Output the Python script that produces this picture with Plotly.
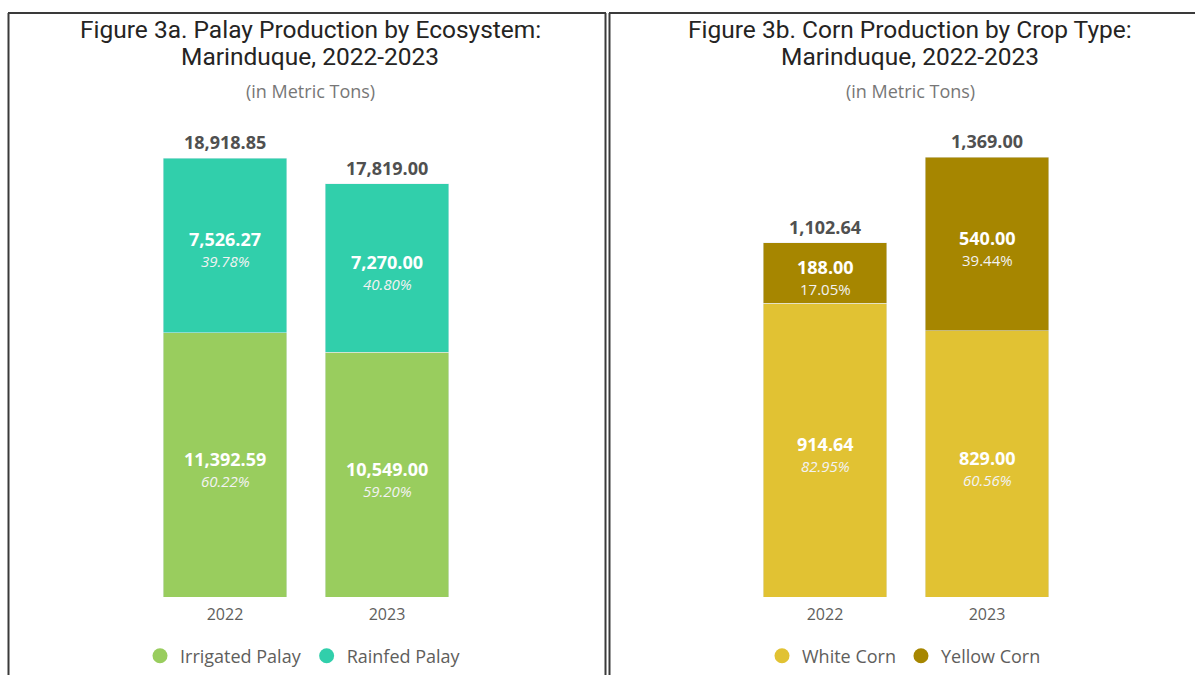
import plotly.graph_objects as go

W, H = 1195, 675

# ---- data ----
years = ["2022", "2023"]

palay_irrigated = [11392.59, 10549.00]
palay_rainfed = [7526.27, 7270.00]
palay_irrigated_pct = ["60.22%", "59.20%"]
palay_rainfed_pct = ["39.78%", "40.80%"]
palay_totals = [18918.85, 17819.00]

corn_white = [914.64, 829.00]
corn_yellow = [188.00, 540.00]
corn_white_pct = ["82.95%", "60.56%"]
corn_yellow_pct = ["17.05%", "39.44%"]
corn_totals = [1102.64, 1369.00]

C_IRR = "#99CD5E"
C_RAIN = "#31CFAB"
C_WHITE = "#E1C233"
C_YELLOW = "#A68600"

LABEL_FONT = "Open Sans, Noto Sans, sans-serif"
TITLE_FONT = "Roboto, Noto Sans, sans-serif"


def px_x(p):
    return p / W


def px_y(p):
    return 1 - p / H


fig = go.Figure()

# bars
fig.add_trace(go.Bar(x=years, y=palay_irrigated, marker_color=C_IRR, name="Irrigated Palay",
                     showlegend=False, xaxis="x", yaxis="y", hoverinfo="x+y+name"))
fig.add_trace(go.Bar(x=years, y=palay_rainfed, marker_color=C_RAIN, name="Rainfed Palay",
                     showlegend=False, xaxis="x", yaxis="y", hoverinfo="x+y+name"))
fig.add_trace(go.Bar(x=years, y=corn_white, marker_color=C_WHITE, name="White Corn",
                     showlegend=False, xaxis="x2", yaxis="y2", hoverinfo="x+y+name"))
fig.add_trace(go.Bar(x=years, y=corn_yellow, marker_color=C_YELLOW, name="Yellow Corn",
                     showlegend=False, xaxis="x2", yaxis="y2", hoverinfo="x+y+name"))

# legend entries (circle markers)
for name, col, leg, xa, ya in [
    ("Irrigated Palay", C_IRR, "legend", "x", "y"),
    ("Rainfed Palay", C_RAIN, "legend", "x", "y"),
    ("White Corn", C_WHITE, "legend2", "x2", "y2"),
    ("Yellow Corn", C_YELLOW, "legend2", "x2", "y2"),
]:
    fig.add_trace(go.Scatter(x=[None], y=[None], mode="markers", name=name,
                             marker=dict(symbol="circle", size=15, color=col),
                             legend=leg, xaxis=xa, yaxis=ya, showlegend=True))

ann = []


def seg_labels(xref, yref, bases, vals, pcts, italic):
    for i, (b, v, p) in enumerate(zip(bases, vals, pcts)):
        mid = b + v / 2
        ann.append(dict(x=i, y=mid, xref=xref, yref=yref, text=f"<b>{v:,.2f}</b>",
                        showarrow=False, yshift=6,
                        font=dict(family=LABEL_FONT, size=18, color="#FFFFFF")))
        ptxt = f"<i>{p}</i>" if italic else p
        ann.append(dict(x=i, y=mid, xref=xref, yref=yref, text=ptxt,
                        showarrow=False, yshift=-16,
                        font=dict(family=LABEL_FONT, size=15, color="#F2F2F2")))


seg_labels("x", "y", [0, 0], palay_irrigated, palay_irrigated_pct, True)
seg_labels("x", "y", palay_irrigated, palay_rainfed, palay_rainfed_pct, True)
seg_labels("x2", "y2", [0, 0], corn_white, corn_white_pct, True)
seg_labels("x2", "y2", corn_white, corn_yellow, corn_yellow_pct, False)

for xref, yref, tots in [("x", "y", palay_totals), ("x2", "y2", corn_totals)]:
    for i, t in enumerate(tots):
        ann.append(dict(x=i, y=t, xref=xref, yref=yref, text=f"<b>{t:,.2f}</b>",
                        showarrow=False, yshift=16,
                        font=dict(family=LABEL_FONT, size=18, color="#505050")))

# titles
for cx, t1, t2 in [(310, "Figure 3a. Palay Production by Ecosystem:", "Marinduque, 2022-2023"),
                   (910, "Figure 3b. Corn Production by Crop Type:", "Marinduque, 2022-2023")]:
    ann.append(dict(x=px_x(cx), y=px_y(30), xref="paper", yref="paper", text=t1,
                    showarrow=False, xanchor="center", yanchor="middle",
                    font=dict(family=TITLE_FONT, size=24.5, color="#252423")))
    ann.append(dict(x=px_x(cx), y=px_y(57), xref="paper", yref="paper", text=t2,
                    showarrow=False, xanchor="center", yanchor="middle",
                    font=dict(family=TITLE_FONT, size=24.5, color="#252423")))
    ann.append(dict(x=px_x(cx), y=px_y(91), xref="paper", yref="paper", text="(in Metric Tons)",
                    showarrow=False, xanchor="center", yanchor="middle",
                    font=dict(family=LABEL_FONT, size=18, color="#777777")))

# panel borders
LC = "#3A3A3A"
shapes = [
    dict(type="line", xref="paper", yref="paper", x0=px_x(8.5), x1=px_x(8.5), y0=px_y(13), y1=0,
         line=dict(color=LC, width=2)),
    dict(type="line", xref="paper", yref="paper", x0=px_x(8), x1=px_x(606), y0=px_y(13), y1=px_y(13),
         line=dict(color=LC, width=2)),
    dict(type="line", xref="paper", yref="paper", x0=px_x(605.5), x1=px_x(605.5), y0=px_y(13), y1=0,
         line=dict(color=LC, width=2)),
    dict(type="line", xref="paper", yref="paper", x0=px_x(609.5), x1=px_x(609.5), y0=px_y(13), y1=0,
         line=dict(color=LC, width=2)),
    dict(type="line", xref="paper", yref="paper", x0=px_x(609), x1=1, y0=px_y(13), y1=px_y(13),
         line=dict(color=LC, width=2)),
]

ydom = [1 - 597 / H, 1 - 120 / H]
palay_max = 477 * 18918.85 / 439
corn_max = 477 * 1369 / 440

axis_x = dict(type="category", range=[-0.5, 1.5], showgrid=False, zeroline=False, showline=False,
              ticks="", ticklabelstandoff=6,
              tickfont=dict(family=LABEL_FONT, size=16, color="#605E5C"), fixedrange=True)
axis_y = dict(showgrid=False, zeroline=False, showline=False, showticklabels=False, ticks="",
              fixedrange=True)

legend_common = dict(orientation="h", yanchor="middle", xanchor="center", y=px_y(656),
                     font=dict(family=LABEL_FONT, size=18, color="#605E5C"),
                     itemwidth=30, bgcolor="rgba(0,0,0,0)", tracegroupgap=0,
                     traceorder="normal")

fig.update_layout(
    width=W, height=H, autosize=False,
    margin=dict(l=0, r=0, t=0, b=0),
    paper_bgcolor="white", plot_bgcolor="white",
    barmode="stack", bargap=0.235,
    xaxis=dict(domain=[144 / W, 468 / W], anchor="y", **axis_x),
    yaxis=dict(domain=ydom, range=[0, palay_max], anchor="x", **axis_y),
    xaxis2=dict(domain=[744 / W, 1068 / W], anchor="y2", **axis_x),
    yaxis2=dict(domain=ydom, range=[0, corn_max], anchor="x2", **axis_y),
    legend=dict(x=px_x(303), **legend_common),
    legend2=dict(x=px_x(904), **legend_common),
    annotations=ann,
    shapes=shapes,
)

fig.write_html("out.html", config={"displayModeBar": False},
               post_script="document.body.style.margin='0';document.body.style.overflow='hidden';")
